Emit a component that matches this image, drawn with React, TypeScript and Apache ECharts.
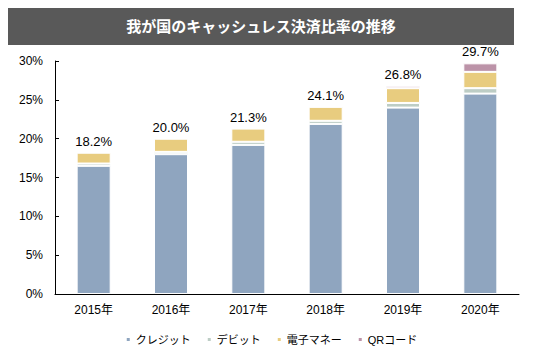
import React, { useEffect, useRef } from "react";
import * as echarts from "echarts";

const categories = ["2015年", "2016年", "2017年", "2018年", "2019年", "2020年"];
const credit = [16.5, 18.0, 19.2, 21.9, 24.0, 25.8];
const debit = [0.3, 0.3, 0.4, 0.4, 0.6, 0.7];
const emoney = [1.4, 1.7, 1.7, 1.8, 1.9, 2.1];
const qrcode = [0, 0, 0, 0, 0.3, 1.1];
const totals = [18.2, 20.0, 21.3, 24.1, 26.8, 29.7];
const seriesNames = ["クレジット", "デビット", "電子マネー", "QRコード"];

const FONT = '"Liberation Sans", Arial, "Noto Sans CJK JP", sans-serif';

export default function App() {
  const ref = useRef<HTMLDivElement>(null);
  useEffect(() => {
    if (!ref.current) return;
    const chart = echarts.init(ref.current, undefined, { renderer: "svg" });
    const colors = ["#8FA5BF", "#BDCDC5", "#E8CC7F", "#BC93A8"];
    const data = [credit, debit, emoney, qrcode];
    const stacked = seriesNames.map((name, i) => ({
      name,
      type: "bar",
      stack: "total",
      barWidth: "44%",
      data: data[i],
      itemStyle: { color: colors[i], borderColor: "#ffffff", borderWidth: 1 },
    }));
    chart.setOption({
      animation: false,
      textStyle: { fontFamily: FONT },
      graphic: [
        {
          type: "rect",
          shape: { x: 7, y: 5, width: 507, height: 40 },
          style: { fill: "#595959" },
        },
        {
          type: "text",
          x: 261,
          y: 25,
          style: {
            text: "我が国のキャッシュレス決済比率の推移",
            fill: "#ffffff",
            font: 'bold 15px "Noto Sans CJK JP", sans-serif',
            align: "center",
            verticalAlign: "middle",
          },
        },
      ],
      legend: {
        data: seriesNames,
        bottom: 8,
        left: "center",
        icon: "rect",
        itemWidth: 5,
        itemHeight: 5,
        itemGap: 15,
        textStyle: { fontSize: 11, color: "#000000", fontFamily: FONT },
      },
      grid: { left: 55, right: 23, top: 61, bottom: 64 },
      xAxis: {
        type: "category",
        data: categories,
        axisLine: { lineStyle: { color: "#000000", width: 1 } },
        axisTick: { inside: true, length: 4, lineStyle: { color: "#000000" } },
        axisLabel: { color: "#000000", fontSize: 12, margin: 10 },
      },
      yAxis: {
        type: "value",
        min: 0,
        max: 30,
        interval: 5,
        axisLine: { show: true, lineStyle: { color: "#000000", width: 1 } },
        axisTick: { show: true, inside: true, length: 4, lineStyle: { color: "#000000" } },
        splitLine: { show: false },
        axisLabel: { color: "#000000", fontSize: 12, margin: 12, formatter: "{value}%" },
      },
      series: [
        ...stacked,
        {
          name: "合計",
          type: "bar",
          barWidth: "44%",
          barGap: "-100%",
          z: 0,
          data: totals,
          itemStyle: { color: "rgba(0,0,0,0)" },
          label: {
            show: true,
            position: "top",
            distance: 5,
            color: "#000000",
            fontSize: 13,
            formatter: (p: any) => p.value.toFixed(1) + "%",
          },
          tooltip: { show: false },
        },
      ],
    });
    return () => chart.dispose();
  }, []);
  return <div ref={ref} style={{ width: 542, height: 358, margin: -8 }} />;
}
